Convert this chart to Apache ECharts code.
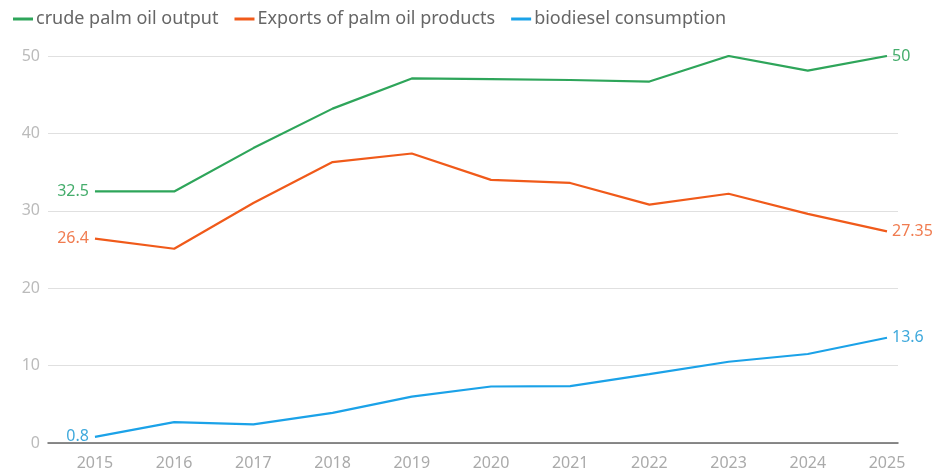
<!DOCTYPE html>
<html><head><meta charset="utf-8">
<script src="https://cdn.jsdelivr.net/npm/echarts@6/dist/echarts.min.js"></script>
<style>html,body{margin:0;padding:0;background:#fff}#c{width:947px;height:472px}</style>
</head><body><div id="c"></div>
<script>
const years = [2015,2016,2017,2018,2019,2020,2021,2022,2023,2024,2025];
const cpo = [32.5,32.5,38.1,43.2,47.1,47.0,46.9,46.7,50.0,48.1,50];
const exportsPO = [26.4,25.1,31.0,36.3,37.4,34.0,33.6,30.8,32.2,29.6,27.35];
const biodiesel = [0.8,2.7,2.4,3.9,6.0,7.3,7.35,8.9,10.5,11.5,13.6];
const yTicks = [0,10,20,30,40,50];
const names = ['crude palm oil output','Exports of palm oil products','biodiesel consumption'];
const colors = ['#2ea55a','#f05a1a','#1ba2e8'];
const labelColors = ['#45ad6c','#f07c50','#3fa9dc'];
const FONT = 'Noto Sans';

function mk(i, arr){
  return {
    name: names[i], type:'line', symbol:'circle', symbolSize:0.01, showSymbol:true,
    lineStyle:{width:2.2,color:colors[i]}, itemStyle:{color:colors[i]},
    label:{show:false},
    data: arr.map((v,k)=>{
      const d = {value:[years[k],v]};
      if(k===0) d.label={show:true,position:'left',distance:6,formatter:String(v),color:labelColors[i],fontSize:16,fontFamily:FONT};
      if(k===arr.length-1) d.label={show:true,position:'right',distance:5,formatter:String(v),color:labelColors[i],fontSize:16,fontFamily:FONT};
      return d;
    })
  };
}
const chart = echarts.init(document.getElementById('c'));
chart.setOption({
  animation:false,
  textStyle:{fontFamily:FONT},
  legend:{left:8,top:5,itemWidth:20,itemHeight:3,itemGap:16,icon:'rect',
    textStyle:{color:'#666',fontSize:18,fontFamily:FONT,padding:[0,0,0,-2]},
    data:names},
  grid:{left:48,right:49,top:56,bottom:29,containLabel:false},
  xAxis:{type:'value',min:2014.407,max:2025.139,
    axisLine:{show:true,lineStyle:{color:'#666',width:1.5}},
    axisTick:{show:false},splitLine:{show:false},
    axisLabel:{customValues:years,formatter:v=>String(v),color:'#aaa',fontSize:16,fontFamily:FONT,margin:12}},
  yAxis:{type:'value',min:0,max:50,interval:10,
    axisLine:{show:false},axisTick:{show:false},
    splitLine:{lineStyle:{color:'#e0e0e0',width:1.2}},
    axisLabel:{color:'#bbb',fontSize:16,fontFamily:FONT,margin:8,
      formatter:v=>yTicks.includes(v)?String(v):''}},
  series:[mk(0,cpo),mk(1,exportsPO),mk(2,biodiesel)]
});
</script></body></html>
